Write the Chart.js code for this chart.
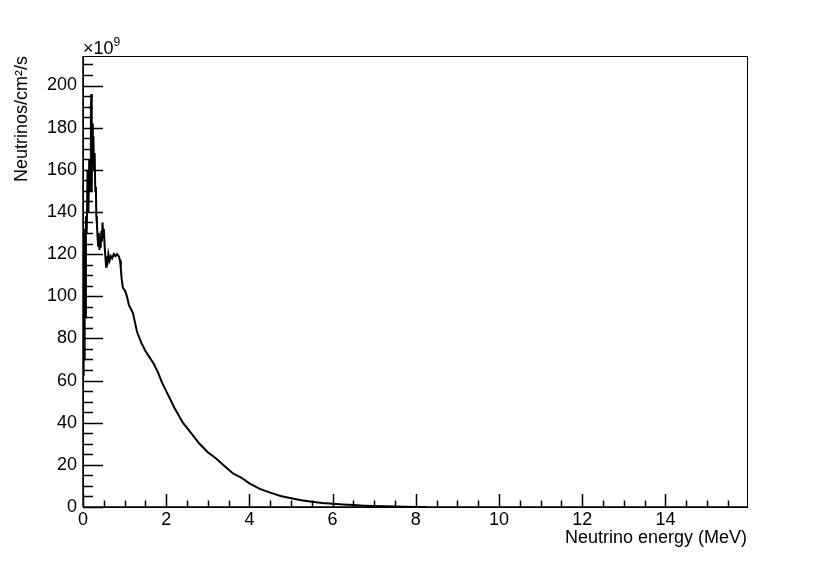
<!DOCTYPE html>
<html>
<head>
<meta charset="utf-8">
<title>Neutrino flux</title>
<script src="https://cdn.jsdelivr.net/npm/chart.js@4.4.1/dist/chart.umd.min.js"></script>
<style>
    html, body { margin: 0; padding: 0; background: #ffffff; }
    #chart { display: block; }
</style>
</head>
<body>
<canvas id="chart" width="830" height="563"></canvas>
<script>
// neutrino energy in MeV
const energies = [
    0.000, 0.010, 0.020, 0.030, 0.040, 0.055, 0.070, 0.090, 0.110, 0.130,
    0.150, 0.170, 0.190, 0.200, 0.210, 0.220, 0.235, 0.250, 0.265, 0.280,
    0.295, 0.310, 0.320, 0.335, 0.350, 0.365, 0.380, 0.395, 0.410, 0.425,
    0.440, 0.455, 0.470, 0.485, 0.500, 0.520, 0.540, 0.555, 0.570, 0.590,
    0.610, 0.640, 0.670, 0.700, 0.740, 0.780, 0.820, 0.860, 0.890, 0.910,
    0.930, 0.960, 1.000, 1.040, 1.080, 1.100, 1.200, 1.300, 1.400, 1.500,
    1.600, 1.700, 1.800, 1.900, 2.000, 2.200, 2.400, 2.600, 2.800, 3.000,
    3.200, 3.400, 3.600, 3.800, 4.000, 4.250, 4.500, 4.750, 5.000, 5.250,
    5.500, 5.750, 6.000, 6.250, 6.500, 6.750, 7.000, 7.250, 7.500, 7.750,
    8.000, 8.250
];

// flux in units of 1e9 neutrinos/cm2/s
const fluxValues = [
    130, 62, 128, 70, 132, 90, 138, 130, 160, 140,
    165, 150, 190, 196, 150, 182, 170, 176, 160, 168,
    150, 152, 138, 134, 128, 124, 130, 122, 127, 123,
    131, 126, 135, 128, 132, 124, 118, 114, 119, 115,
    120, 117, 119, 118, 120, 119, 120, 119, 117, 113,
    108, 104, 103, 101, 98, 96, 92, 83, 78, 74,
    71, 68, 64, 59, 55, 47, 40, 35, 30, 26,
    23, 19.5, 16, 14, 11.2, 8.6, 6.8, 5.2, 4.2, 3.2,
    2.5, 1.9, 1.5, 1.2, 0.9, 0.65, 0.45, 0.3, 0.2, 0.1,
    0.05, 0
];

const xTickLabels = [0, 2, 4, 6, 8, 10, 12, 14];
const yTickLabels = [0, 20, 40, 60, 80, 100, 120, 140, 160, 180, 200];

const X_MAX = 15.96;
const Y_MAX = 214;
const FONT = '"Liberation Sans", Arial, Helvetica, sans-serif';

// ROOT style frame: ticks drawn inward, plus the x10^9 exponent
const rootFramePlugin = {
    id: 'rootFrame',
    afterDraw: (chart) => {
        const { ctx, chartArea: area, scales } = chart;
        const xs = scales.x;
        const ys = scales.y;

        ctx.save();
        ctx.strokeStyle = '#000000';
        ctx.lineWidth = 1;
        ctx.strokeRect(area.left + 0.5, area.top + 0.5, area.right - area.left, area.bottom - area.top);

        ctx.lineWidth = 1.5;
        ctx.beginPath();
        for (let v = 0; v <= X_MAX + 1e-6; v += 0.5) {
            const px = Math.round(xs.getPixelForValue(v)) + 0.5;
            const len = (Math.abs(v % 2) < 1e-6) ? 13 : 6.5;
            ctx.moveTo(px, area.bottom);
            ctx.lineTo(px, area.bottom - len);
        }
        for (let v = 0; v <= Y_MAX + 1e-6; v += 5) {
            const py = Math.round(ys.getPixelForValue(v)) + 0.5;
            const len = (v % 20 === 0) ? 20 : 10;
            ctx.moveTo(area.left, py);
            ctx.lineTo(area.left + len, py);
        }
        // axis lines
        ctx.moveTo(area.left, area.bottom);
        ctx.lineTo(area.right, area.bottom);
        ctx.moveTo(area.left, area.top);
        ctx.lineTo(area.left, area.bottom);
        ctx.stroke();

        ctx.fillStyle = '#000000';
        ctx.textBaseline = 'alphabetic';
        ctx.textAlign = 'left';
        ctx.font = '18px ' + FONT;
        ctx.fillText('\u00d710', area.left, area.top - 2);
        const w = ctx.measureText('\u00d710').width;
        ctx.font = '12px ' + FONT;
        ctx.fillText('9', area.left + w, area.top - 10);
        ctx.restore();
    }
};

const points = energies.map((e, i) => ({ x: e, y: fluxValues[i] }));

const ctx = document.getElementById('chart').getContext('2d');

new Chart(ctx, {
    type: 'line',
    data: {
        datasets: [{
            label: 'flux',
            data: points,
            borderColor: '#000000',
            borderWidth: 2,
            pointRadius: 0,
            tension: 0,
            fill: false
        }]
    },
    options: {
        responsive: false,
        animation: false,
        layout: {
            padding: { left: 0, top: 56, right: 83, bottom: 0 }
        },
        plugins: {
            legend: { display: false },
            tooltip: { enabled: false }
        },
        scales: {
            x: {
                type: 'linear',
                min: 0,
                max: X_MAX,
                border: { display: false },
                grid: { display: false, drawTicks: false },
                afterFit: (scale) => { scale.height = 56; },
                afterBuildTicks: (scale) => {
                    scale.ticks = xTickLabels.map(v => ({ value: v }));
                },
                ticks: {
                    color: '#000000',
                    padding: 2,
                    maxRotation: 0,
                    font: { family: FONT, size: 18 },
                    callback: (value) => String(value)
                },
                title: {
                    display: true,
                    text: 'Neutrino energy (MeV)',
                    align: 'end',
                    color: '#000000',
                    font: { family: FONT, size: 18 },
                    padding: { top: 0, bottom: 14 }
                }
            },
            y: {
                type: 'linear',
                min: 0,
                max: Y_MAX,
                border: { display: false },
                grid: { display: false, drawTicks: false },
                afterFit: (scale) => { scale.width = 83; },
                afterBuildTicks: (scale) => {
                    scale.ticks = yTickLabels.map(v => ({ value: v }));
                },
                ticks: {
                    color: '#000000',
                    padding: 6,
                    font: { family: FONT, size: 18 },
                    callback: (value) => String(value)
                },
                title: {
                    display: true,
                    text: 'Neutrinos/cm\u00b2/s',
                    align: 'end',
                    color: '#000000',
                    font: { family: FONT, size: 18 },
                    padding: { top: 11, bottom: 0 }
                }
            }
        }
    },
    plugins: [rootFramePlugin]
});
</script>
</body>
</html>
